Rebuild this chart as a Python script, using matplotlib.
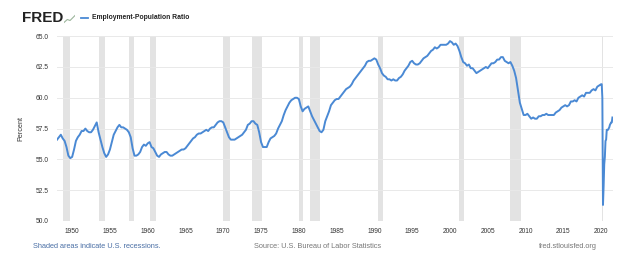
"""
FRED chart: Employment-Population Ratio (EMRATIO), 1948-2021,
with NBER recessions shaded.
"""

import matplotlib
matplotlib.use("Agg")
import matplotlib.pyplot as plt
import numpy as np

# ── Data ──────────────────────────────────────────────────────────────────────
# Quarterly values 1948Q1 .. 2019Q4 (percent)
QUARTERLY = [
    56.6, 56.8, 57.0, 56.7,   # 1948
    56.5, 56.0, 55.3, 55.1,   # 1949
    55.2, 55.8, 56.5, 56.8,   # 1950
    57.0, 57.3, 57.3, 57.5,   # 1951
    57.3, 57.2, 57.2, 57.4,   # 1952
    57.7, 58.0, 57.2, 56.6,   # 1953
    56.0, 55.5, 55.2, 55.4,   # 1954
    55.8, 56.4, 57.0, 57.3,   # 1955
    57.6, 57.8, 57.6, 57.6,   # 1956
    57.5, 57.4, 57.2, 56.8,   # 1957
    55.9, 55.3, 55.3, 55.4,   # 1958
    55.6, 56.0, 56.2, 56.1,   # 1959
    56.3, 56.4, 56.0, 55.9,   # 1960
    55.6, 55.3, 55.2, 55.4,   # 1961
    55.5, 55.6, 55.6, 55.4,   # 1962
    55.3, 55.3, 55.4, 55.5,   # 1963
    55.6, 55.7, 55.8, 55.8,   # 1964
    55.9, 56.1, 56.3, 56.5,   # 1965
    56.7, 56.8, 57.0, 57.1,   # 1966
    57.1, 57.2, 57.3, 57.4,   # 1967
    57.3, 57.5, 57.6, 57.6,   # 1968
    57.8, 58.0, 58.1, 58.1,   # 1969
    58.0, 57.6, 57.2, 56.8,   # 1970
    56.6, 56.6, 56.6, 56.7,   # 1971
    56.8, 56.9, 57.0, 57.2,   # 1972
    57.4, 57.8, 57.9, 58.1,   # 1973
    58.1, 57.9, 57.8, 57.2,   # 1974
    56.4, 56.0, 56.0, 56.0,   # 1975
    56.4, 56.7, 56.8, 56.9,   # 1976
    57.1, 57.5, 57.8, 58.1,   # 1977
    58.6, 59.0, 59.3, 59.6,   # 1978
    59.8, 59.9, 60.0, 60.0,   # 1979
    59.9, 59.3, 58.9, 59.1,   # 1980
    59.2, 59.3, 58.9, 58.5,   # 1981
    58.2, 57.9, 57.6, 57.3,   # 1982
    57.2, 57.4, 58.1, 58.5,   # 1983
    58.9, 59.4, 59.6, 59.8,   # 1984
    59.9, 59.9, 60.1, 60.3,   # 1985
    60.5, 60.7, 60.8, 60.9,   # 1986
    61.1, 61.4, 61.6, 61.8,   # 1987
    62.0, 62.2, 62.4, 62.6,   # 1988
    62.9, 63.0, 63.0, 63.1,   # 1989
    63.2, 63.1, 62.7, 62.4,   # 1990
    62.0, 61.8, 61.7, 61.5,   # 1991
    61.5, 61.4, 61.5, 61.4,   # 1992
    61.4, 61.6, 61.7, 61.9,   # 1993
    62.2, 62.4, 62.6, 62.9,   # 1994
    63.0, 62.8, 62.7, 62.7,   # 1995
    62.8, 63.0, 63.2, 63.3,   # 1996
    63.4, 63.6, 63.8, 63.9,   # 1997
    64.1, 64.0, 64.1, 64.3,   # 1998
    64.3, 64.3, 64.3, 64.4,   # 1999
    64.6, 64.5, 64.3, 64.4,   # 2000
    64.2, 63.8, 63.3, 62.9,   # 2001
    62.8, 62.6, 62.7, 62.4,   # 2002
    62.4, 62.2, 62.0, 62.1,   # 2003
    62.2, 62.3, 62.4, 62.5,   # 2004
    62.4, 62.6, 62.8, 62.8,   # 2005
    62.9, 63.1, 63.1, 63.3,   # 2006
    63.3, 63.0, 62.9, 62.8,   # 2007
    62.9, 62.6, 62.2, 61.6,   # 2008
    60.6, 59.6, 59.1, 58.6,   # 2009
    58.6, 58.7, 58.5, 58.3,   # 2010
    58.4, 58.3, 58.3, 58.5,   # 2011
    58.5, 58.6, 58.6, 58.7,   # 2012
    58.6, 58.6, 58.6, 58.6,   # 2013
    58.8, 58.9, 59.0, 59.2,   # 2014
    59.3, 59.4, 59.3, 59.4,   # 2015
    59.7, 59.7, 59.8, 59.7,   # 2016
    60.0, 60.1, 60.2, 60.1,   # 2017
    60.4, 60.4, 60.4, 60.6,   # 2018
    60.7, 60.6, 60.9, 61.0,   # 2019
]
Q_START = 1948

# Monthly values Jan 2020 .. Jul 2021
MONTHLY = [61.1, 61.1, 60.0, 51.3, 52.8, 54.6, 55.2, 56.5, 56.6, 57.4,
           57.4, 57.4, 57.5, 57.6, 57.8, 57.9, 58.0, 58.0, 58.4]
M_START = 2020

# NBER recessions (start, end) in fractional years
RECESSIONS = [
    (1948.83, 1949.75), (1953.50, 1954.33), (1957.58, 1958.25),
    (1960.25, 1961.08), (1969.92, 1970.83), (1973.83, 1975.17),
    (1980.00, 1980.50), (1981.50, 1982.83), (1990.50, 1991.17),
    (2001.17, 2001.83), (2007.92, 2009.42), (2020.08, 2020.25),
]

Y_TICKS = [50.0, 52.5, 55.0, 57.5, 60.0, 62.5, 65.0]
X_TICKS = list(range(1950, 2021, 5))

LINE = "#4a89d4"
SHADE = "#e3e3e3"
GRID = "#e9e9e9"
TICK = "#333333"


def plot(out_path="out.png"):
    plt.rcParams["font.family"] = ["Liberation Sans", "DejaVu Sans"]

    fig = plt.figure(figsize=(6.2, 2.64), dpi=100)
    fig.patch.set_facecolor("white")
    ax = fig.add_axes([0.092, 0.163, 0.897, 0.700])

    q_x = Q_START + np.arange(len(QUARTERLY)) * 0.25
    m_x = M_START + np.arange(len(MONTHLY)) / 12.0
    x = np.concatenate([q_x, m_x])
    y = np.concatenate([QUARTERLY, MONTHLY])

    for a, b in RECESSIONS:
        ax.axvspan(a, b, color=SHADE, lw=0, zorder=0)

    ax.plot(x, y, color=LINE, lw=1.4, zorder=3, solid_joinstyle="round")

    ax.set_xlim(1948.0, 2021.6)
    ax.set_ylim(50.0, 65.0)
    ax.set_yticks(Y_TICKS)
    ax.set_yticklabels([f"{v:.1f}" for v in Y_TICKS])
    ax.set_xticks(X_TICKS)
    ax.grid(axis="y", color=GRID, lw=0.7, zorder=1)
    ax.tick_params(axis="both", labelsize=4.8, colors=TICK, length=0, pad=6)
    ax.tick_params(axis="x", pad=5)
    for s in ax.spines.values():
        s.set_visible(False)
    ax.set_ylabel("Percent", fontsize=5.2, color=TICK, labelpad=8)

    # ── Header ────────────────────────────────────────────────────────────────
    hy = 1 - 18 / 264
    fig.text(22 / 620, hy, "FRED", fontsize=11, fontweight="bold",
             color="#222222", ha="left", va="center")
    # small chart icon next to the logo
    icon = fig.add_axes([64 / 620, 1 - 24 / 264, 11 / 620, 10 / 264])
    icon.set_facecolor("#eef1ee")
    icon.plot([0, 0.3, 0.55, 1.0], [0.15, 0.45, 0.35, 0.85],
              color="#9bb59b", lw=0.8)
    icon.set_xlim(0, 1)
    icon.set_ylim(0, 1)
    icon.axis("off")
    fig.add_artist(plt.Line2D([81 / 620, 88 / 620], [hy] * 2,
                              color=LINE, lw=1.3))
    fig.text(92 / 620, hy, "Employment-Population Ratio",
             fontsize=4.9, fontweight="bold", color="#222222",
             ha="left", va="center")

    # ── Footer ────────────────────────────────────────────────────────────────
    fy = 1 - 247 / 264
    fig.text(33 / 620, fy, "Shaded areas indicate U.S. recessions.",
             fontsize=5.3, color="#4a6fa5", ha="left", va="center")
    fig.text(254 / 620, fy, "Source: U.S. Bureau of Labor Statistics",
             fontsize=5.3, color="#777777", ha="left", va="center")
    fig.text(597 / 620, fy, "fred.stlouisfed.org",
             fontsize=5.3, color="#777777", ha="right", va="center")

    fig.savefig(out_path, dpi=100, facecolor="white")


if __name__ == "__main__":
    plot()
